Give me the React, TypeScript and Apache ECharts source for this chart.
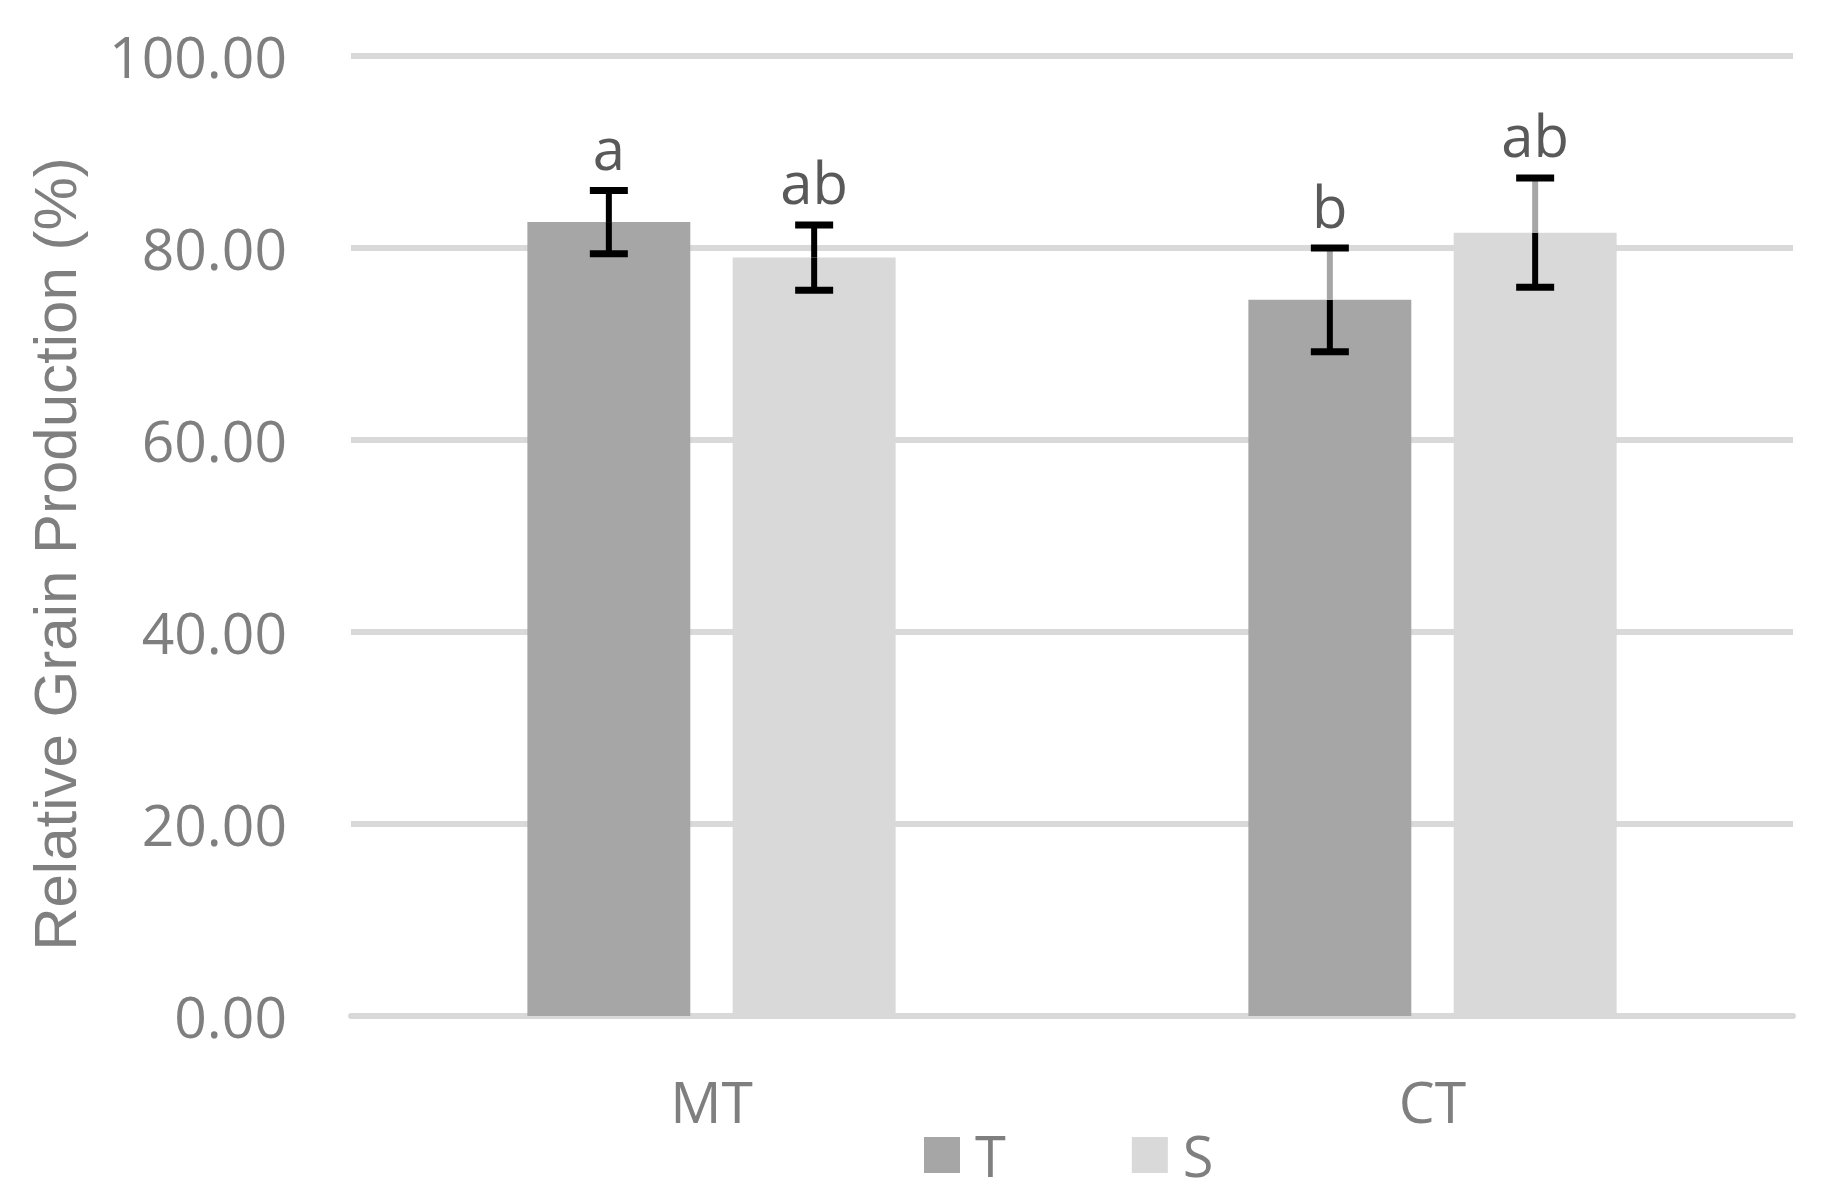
import React, { useEffect, useRef } from "react";
import * as echarts from "echarts";

const categories = ["MT", "CT"];
const seriesNames = ["T", "S"];
const tMeans = [82.7, 74.6];
const sMeans = [79.0, 81.6];
const tErrors = [3.3, 5.4];
const sErrors = [3.4, 5.7];
const tLetters = ["a", "b"];
const sLetters = ["ab", "ab"];
const yTicks = { min: 0, max: 100, interval: 20 };

// styling (not data)
const BAR_FRAC = 0.226;
const GAP_FRAC = 0.26;
const COLOR_T = "#a6a6a6";
const COLOR_S = "#d9d9d9";
const GRID_COLOR = "#d9d9d9";
const AXIS_TEXT = "#7f7f7f";
const LETTER_TEXT = "#595959";
const FONT = "'Open Sans', 'Noto Sans', sans-serif";
// Stem segment above the bar drawn in grey for the CT group (as in the reference)
const tStemAboveGrey = [false, true];
const sStemAboveGrey = [false, true];

function errorSeries(
  means: number[],
  errs: number[],
  letters: string[],
  sign: number,
  greyAbove: boolean[]
) {
  return {
    type: "custom",
    silent: true,
    z: 10,
    data: means.map((m, i) => [i, m, errs[i]]),
    encode: { x: 0, y: 1 },
    renderItem: (params: any, api: any) => {
      const i = api.value(0);
      const m = api.value(1);
      const e = api.value(2);
      const idx = params.dataIndex;
      const center = api.coord([i, m]);
      const bandW = api.size([1, 0])[0];
      const barW = bandW * BAR_FRAC;
      const x = center[0] + (sign * barW * (1 + GAP_FRAC)) / 2;
      const yTop = api.coord([i, m + e])[1];
      const yBot = api.coord([i, m - e])[1];
      const yMean = center[1];
      const half = 19;
      const lw = 6;
      const black = "#000000";
      return {
        type: "group",
        children: [
          {
            type: "line",
            shape: { x1: x, y1: yMean, x2: x, y2: yBot },
            style: { stroke: black, lineWidth: lw },
          },
          {
            type: "line",
            shape: { x1: x, y1: yTop, x2: x, y2: yMean },
            style: { stroke: greyAbove[idx] ? COLOR_T : black, lineWidth: lw },
          },
          {
            type: "line",
            shape: { x1: x - half, y1: yTop, x2: x + half, y2: yTop },
            style: { stroke: black, lineWidth: lw + 1 },
          },
          {
            type: "line",
            shape: { x1: x - half, y1: yBot, x2: x + half, y2: yBot },
            style: { stroke: black, lineWidth: lw + 1 },
          },
          {
            type: "text",
            x: x,
            y: yTop - 14,
            style: {
              text: letters[idx],
              fill: LETTER_TEXT,
              font: `58px ${FONT}`,
              align: "center",
              verticalAlign: "bottom",
            },
          },
        ],
      };
    },
  };
}

export default function App() {
  const ref = useRef<HTMLDivElement>(null);
  useEffect(() => {
    if (!ref.current) return;
    const chart = echarts.init(ref.current, undefined, { renderer: "svg" });
    chart.setOption({
      animation: false,
      backgroundColor: "#ffffff",
      grid: { left: 351, right: 44, top: 56, bottom: 188, containLabel: false },
      legend: {
        data: seriesNames,
        left: 919,
        top: 1122,
        icon: "rect",
        itemWidth: 36,
        itemHeight: 36,
        itemGap: 126,
        textStyle: {
          color: AXIS_TEXT,
          fontSize: 56,
          fontFamily: FONT,
          padding: [0, 0, 0, 10],
        },
      },
      xAxis: {
        type: "category",
        data: categories,
        axisTick: { show: false },
        axisLine: { show: true, lineStyle: { color: GRID_COLOR, width: 6 } },
        axisLabel: {
          color: AXIS_TEXT,
          fontSize: 57,
          fontFamily: FONT,
          margin: 56,
        },
      },
      yAxis: {
        type: "value",
        min: yTicks.min,
        max: yTicks.max,
        interval: yTicks.interval,
        axisLine: { show: false },
        axisTick: { show: false },
        splitLine: { lineStyle: { color: GRID_COLOR, width: 6 } },
        axisLabel: {
          color: AXIS_TEXT,
          fontSize: 57,
          fontFamily: FONT,
          margin: 64,
          formatter: (v: number) => v.toFixed(2),
        },
        name: "Relative Grain Production (%)",
        nameLocation: "middle",
        nameGap: 266,
        nameTextStyle: {
          color: AXIS_TEXT,
          fontSize: 60,
          fontFamily: "'Liberation Sans', Arial, sans-serif",
          padding: [0, 36, 0, 0],
        },
      },
      series: [
        {
          name: seriesNames[0],
          type: "bar",
          data: tMeans,
          barWidth: `${BAR_FRAC * 100}%`,
          barGap: `${GAP_FRAC * 100}%`,
          itemStyle: { color: COLOR_T },
        },
        {
          name: seriesNames[1],
          type: "bar",
          data: sMeans,
          barWidth: `${BAR_FRAC * 100}%`,
          barGap: `${GAP_FRAC * 100}%`,
          itemStyle: { color: COLOR_S },
        },
        errorSeries(tMeans, tErrors, tLetters, -1, tStemAboveGrey),
        errorSeries(sMeans, sErrors, sLetters, 1, sStemAboveGrey),
      ],
    });
    return () => chart.dispose();
  }, []);
  return (
    <div
      ref={ref}
      style={{ position: "fixed", left: 0, top: 0, width: 1837, height: 1204 }}
    />
  );
}
